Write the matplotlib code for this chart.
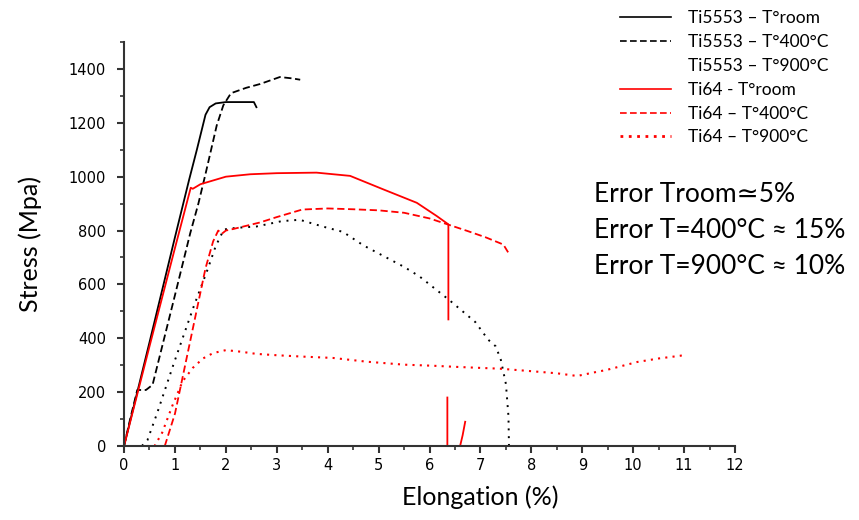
import numpy as np
import matplotlib
matplotlib.use("Agg")
import matplotlib.pyplot as plt
from matplotlib.lines import Line2D
from matplotlib.ticker import MultipleLocator

# values (elongation %, stress MPa); NaN = gap
ti5553_room_x = [0, 0.5, 1.0, 1.28, 1.43, 1.6, 1.68, 1.8, 2.0, 2.3, 2.55, 2.6]
ti5553_room_y = [0, 385, 775, 990, 1100, 1230, 1258, 1272, 1277, 1277, 1277, 1258]

ti5553_400_x = [0, 0.12, 0.26, 0.43, 0.56, 1.0, 1.3, 1.46, 1.6, 1.82, 1.95, 2.1,
                2.4, 2.67, 3.06, 3.3, 3.46]
ti5553_400_y = [0, 100, 208, 208, 227, 560, 790, 900, 1010, 1190, 1265, 1310,
                1330, 1344, 1370, 1365, 1360]

ti5553_900_x = [0.2, 0.35, 0.46, 0.65, 0.98, 1.37, 1.64, 1.8, 1.96, 2.2, 2.6, 3.1,
                3.45, 3.9, 4.3, 4.7, 5.0, 5.5, 5.8, 6.1, 6.4, 6.9, 7.15, 7.3, 7.4,
                7.5, 7.55, 7.56]
ti5553_900_y = [0, 0, 22, 122, 308, 519, 655, 742, 804, 810, 815, 835,
                840, 815, 795, 745, 715, 665, 630, 585, 540, 460, 395, 370, 320,
                230, 110, 0]

ti64_room_x = [0, 0.5, 1.0, 1.31, 1.35, 1.5, 2.0, 2.48, 3.0, 3.78, 4.44, 5.09,
               5.75, 6.14, 6.37, 6.37, np.nan, 6.35, 6.35, np.nan, 6.6, 6.65, 6.7]
ti64_room_y = [0, 370, 735, 959, 955, 972, 1000, 1009, 1013, 1015, 1003, 953,
               903, 854, 823, 470, np.nan, 180, 0, np.nan, 0, 40, 90]

ti64_400_x = [0.8, 0.85, 1.0, 1.2, 1.4, 1.6, 1.75, 1.85, 1.92, 2.0, 2.15, 2.67,
              3.0, 3.5, 4.0, 4.5, 5.0, 5.5, 6.0, 6.4, 6.75, 7.1, 7.45, 7.55]
ti64_400_y = [0, 30, 120, 300, 480, 660, 760, 800, 788, 800, 806, 830,
              850, 878, 882, 879, 875, 866, 845, 820, 798, 775, 748, 717]

ti64_900_x = [0.45, 0.6, 0.75, 0.95, 1.15, 1.35, 1.55, 1.75, 2.0, 2.3, 2.6, 3.0,
              3.5, 4.1, 4.77, 5.5, 6.07, 6.5, 7.0, 7.39, 7.92, 8.5, 8.9, 9.2,
              9.49, 10.08, 10.5, 10.92, 11.0]
ti64_900_y = [0, 0, 50, 150, 240, 290, 325, 345, 356, 350, 342, 337,
              332, 327, 313, 302, 298, 294, 290, 287, 279, 270, 260, 272,
              283, 312, 325, 335, 338]

legend_labels = ["Ti5553 – T°room", "Ti5553 – T°400°C", "Ti5553 – T°900°C",
                 "Ti64 - T°room", "Ti64 – T°400°C", "Ti64 – T°900°C"]
error_lines = ["Error Troom≃5%", "Error T=400°C ≈ 15%", "Error T=900°C ≈ 10%"]

txt_font = ["Lato", "DejaVu Sans"]
tick_font = "DejaVu Sans"

fig = plt.figure(figsize=(8.59, 5.2), dpi=100)
ax = fig.add_axes([0.1444, 0.1423, 0.7113, 0.7769])

ax.plot(ti5553_room_x, ti5553_room_y, color="black", lw=1.3)
ax.plot(ti5553_400_x, ti5553_400_y, color="black", lw=1.3, ls=(0, (4, 2)))
ax.plot(ti5553_900_x, ti5553_900_y, color="black", lw=1.4, ls=(0, (1, 3)))
ax.plot(ti64_room_x, ti64_room_y, color="red", lw=1.3)
ax.plot(ti64_400_x, ti64_400_y, color="red", lw=1.3, ls=(0, (4, 2)))
ax.plot(ti64_900_x, ti64_900_y, color="red", lw=1.5, ls=(0, (1, 2.5)))

ax.set_xlim(0, 12)
ax.set_ylim(0, 1500)
ax.xaxis.set_major_locator(MultipleLocator(1))
ax.xaxis.set_minor_locator(MultipleLocator(0.5))
ax.yaxis.set_minor_locator(MultipleLocator(100))
ax.set_yticks(range(0, 1401, 200))
ax.spines["top"].set_visible(False)
ax.spines["right"].set_visible(False)
for s in ("left", "bottom"):
    ax.spines[s].set_linewidth(1.5)
    ax.spines[s].set_color("#333333")
ax.tick_params(which="major", direction="out", length=5, width=1.5, color="#333333",
               labelsize=10.5)
ax.tick_params(which="minor", direction="out", length=3, width=1.2, color="#333333")
ax.tick_params(axis="y", which="major", pad=8)
for lab in ax.get_xticklabels() + ax.get_yticklabels():
    lab.set_fontfamily(tick_font)

ax.set_xlabel("Elongation (%)", fontsize=18, family=txt_font)
ax.set_ylabel("Stress (Mpa)", fontsize=18, family=txt_font)
ax.xaxis.set_label_coords(0.583, -0.097)
ax.yaxis.set_label_coords(-0.134, 0.5)

handles = [
    Line2D([], [], color="black", lw=1.2),
    Line2D([], [], color="black", lw=1.2, ls=(0, (4, 2))),
    Line2D([], [], ls="none"),
    Line2D([], [], color="red", lw=1.2),
    Line2D([], [], color="red", lw=1.2, ls=(0, (4, 2))),
    Line2D([], [], color="red", lw=2, ls=(0, (1, 2))),
]
fig.legend(handles, legend_labels, loc="upper left", bbox_to_anchor=(0.704, 1.01),
           frameon=False, prop={"family": txt_font, "size": 12.5},
           handlelength=2.9, labelspacing=0.45, handletextpad=1.0)

for i, t in enumerate(error_lines):
    fig.text(0.691, 0.625 - i * 0.069, t, fontsize=19, family=txt_font, va="center")

fig.savefig("out.png", dpi=100)
